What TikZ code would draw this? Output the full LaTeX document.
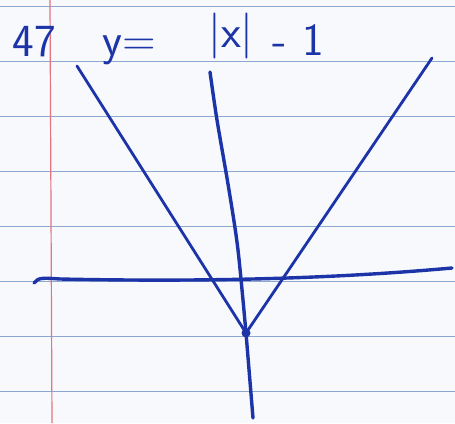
\documentclass[tikz,border=0pt]{standalone}
\usepackage{tikz}
\usetikzlibrary{positioning}
\definecolor{paper}{RGB}{247,249,253}
\definecolor{ruleblue}{RGB}{140,168,206}
\definecolor{marginred}{RGB}{228,116,126}
\definecolor{inkblue}{RGB}{28,52,168}
\begin{document}
\begin{tikzpicture}[x=1pt,y=-1pt,
		ink/.style={draw=inkblue,line width=3.4pt,line cap=round,line join=round},
		rule/.style={draw=ruleblue,line width=1pt},
		margin/.style={draw=marginred,line width=1.2pt},
		hand/.style={text=inkblue,font=\sffamily\fontsize{46}{50}\selectfont,inner sep=0pt}]

	% paper
	\fill[paper] (0,0) rectangle (455,423);
	\useasboundingbox (0,0) rectangle (455,423);
	\foreach \y in {6,61,116,171,226,281,336,391}
		\draw[rule] (0,\y) -- (455,\y);
	\draw[margin] (50,0) -- (52,423);

	% title
	\node[hand] (num) at (34,42) {47};
	\node[hand] (yeq) at (129,50) {y=};
	\node[hand] (absx) at (231,36) {|x|};
	\node[hand] (minusone) at (298,40) {-\,\,1};

	% points of the graph
	\coordinate (vertex) at (246,333);
	\coordinate (lefttop) at (77,66);
	\coordinate (righttop) at (432,58);
	\coordinate (axistop) at (210,72);
	\coordinate (axisbottom) at (253,418);
	\coordinate (axisleft) at (34,283);
	\coordinate (axisright) at (452,268);

	% axes
	\draw[ink] plot[smooth] coordinates {(axistop) (217,120) (229,190) (238,250) (vertex)}
		-- (axisbottom);
	\draw[ink] (axisleft) .. controls (38,277) and (45,278) .. (60,279)
		.. controls (200,282) and (330,279) .. (axisright);

	% the two branches
	\draw[ink,line width=2.8pt] (lefttop) -- (vertex) -- (righttop);
	\fill[inkblue] (vertex) circle (4.5pt);
\end{tikzpicture}
\end{document}
